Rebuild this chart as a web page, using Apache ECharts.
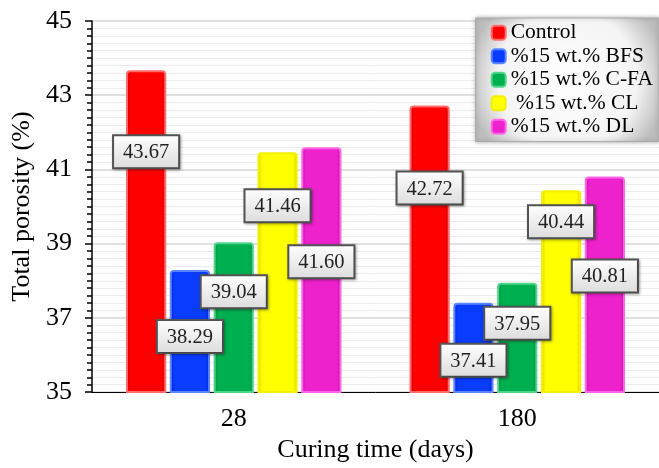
<!DOCTYPE html>
<html>
<head>
<meta charset="utf-8">
<script src="https://cdn.jsdelivr.net/npm/echarts@6/dist/echarts.min.js"></script>
<style>
html,body{margin:0;padding:0;background:#fff;}
#chart{width:659px;height:468px;}
</style>
</head>
<body>
<div id="chart"></div>
<script>
const categories = ['28', '180'];
const seriesNames = ['Control', '%15 wt.% BFS', '%15 wt.% C-FA', ' %15 wt.% CL', '%15 wt.% DL'];
const control = [43.67, 42.72];
const bfs = [38.29, 37.41];
const cfa = [39.04, 37.95];
const cl = [41.46, 40.44];
const dl = [41.60, 40.81];
const yTicks = [35, 37, 39, 41, 43, 45];

// style only: label centre distance (px) below bar top, per series per category
const labelDrop = [[82, 83], [67, 58], [50, 41], [54, 32], [115, 100]];
const colors = ['#ff0000', '#0a3cff', '#00b050', '#ffff00', '#ee22cc'];
const edge = ['#ff6a6a', '#5a85ff', '#4fd58a', '#f4f000', '#ff66e6'];
const dark = ['#d40000', '#0022c8', '#008a3c', '#d8d000', '#c010a8'];

const serif = '"Liberation Serif","DejaVu Serif",serif';
const values = [control, bfs, cfa, cl, dl];

const chart = echarts.init(document.getElementById('chart'));
const series = seriesNames.map((name, i) => ({
  name: name,
  type: 'bar',
  barGap: '9%',
  barCategoryGap: '24%',
  itemStyle: {
    color: new echarts.graphic.LinearGradient(0, 0, 1, 0, [
      {offset: 0, color: dark[i]},
      {offset: 0.12, color: colors[i]},
      {offset: 0.88, color: colors[i]},
      {offset: 1, color: dark[i]}
    ]),
    borderColor: edge[i],
    borderWidth: 2,
    borderRadius: [3, 3, 0, 0]
  },
  data: values[i].map((v, j) => ({
    value: v,
    label: {
      show: true,
      position: 'insideTop',
      distance: 0,
      offset: [0, labelDrop[i][j] - 16],
      formatter: (p) => p.value.toFixed(2),
      fontFamily: serif,
      fontSize: 20.5,
      color: '#222',
      padding: [6, 9, 4, 9],
      backgroundColor: new echarts.graphic.LinearGradient(0, 0, 0, 1, [
        {offset: 0, color: '#ffffff'},
        {offset: 1, color: '#dcdcdc'}
      ]),
      borderColor: '#555',
      borderWidth: 2,
      shadowColor: 'rgba(0,0,0,0.35)',
      shadowBlur: 3,
      shadowOffsetX: 1,
      shadowOffsetY: 1
    }
  }))
}));

chart.setOption({
  animation: false,
  backgroundColor: '#ffffff',
  grid: {left: 92, right: 0, top: 21, bottom: 72},
  legend: {
    data: seriesNames,
    orient: 'vertical',
    right: 0,
    top: 18,
    itemWidth: 14,
    itemHeight: 14,
    itemGap: 0,
    padding: [3, 6, 3, 15],
    backgroundColor: new echarts.graphic.RadialGradient(0.5, 0.5, 0.8, [
      {offset: 0, color: '#ffffff'},
      {offset: 0.7, color: '#f4f4f4'},
      {offset: 1, color: '#bdbdbd'}
    ]),
    borderColor: '#aaa',
    borderWidth: 1,
    shadowColor: 'rgba(0,0,0,0.3)',
    shadowBlur: 4,
    textStyle: {fontFamily: serif, fontSize: 21.5, lineHeight: 23.5, color: '#000'}
  },
  xAxis: {
    type: 'category',
    data: categories,
    name: 'Curing time (days)',
    nameLocation: 'middle',
    nameGap: 44,
    nameTextStyle: {fontFamily: serif, fontSize: 26, color: '#000'},
    axisLine: {lineStyle: {color: '#000', width: 1}},
    axisTick: {alignWithLabel: true, length: 5, lineStyle: {color: '#000'}},
    axisLabel: {fontFamily: serif, fontSize: 26, color: '#000', margin: 14}
  },
  yAxis: {
    type: 'value',
    min: yTicks[0],
    max: yTicks[yTicks.length - 1],
    interval: 2,
    name: 'Total porosity (%)',
    nameLocation: 'middle',
    nameGap: 54,
    nameTextStyle: {fontFamily: serif, fontSize: 26, color: '#000'},
    axisLine: {show: true, lineStyle: {color: '#000', width: 1.5}},
    axisTick: {show: true, length: 7, lineStyle: {color: '#000', width: 1.5}},
    minorTick: {show: true, splitNumber: 10, length: 5, lineStyle: {color: '#000', width: 1.5}},
    axisLabel: {fontFamily: serif, fontSize: 26, color: '#000', margin: 20},
    splitLine: {show: true, lineStyle: {color: '#d6d6d6', width: 1.5}},
    minorSplitLine: {show: true, lineStyle: {color: '#ececec', width: 1}}
  },
  series: series
});
</script>
</body>
</html>
